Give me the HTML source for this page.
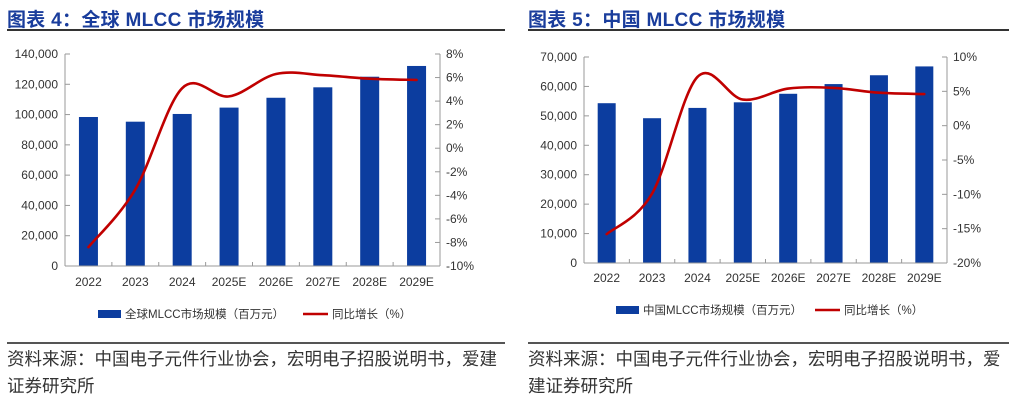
<!DOCTYPE html>
<html><head><meta charset="utf-8">
<style>
html,body{margin:0;padding:0;background:#fff;}
body{width:1016px;height:403px;position:relative;overflow:hidden;font-family:"Liberation Sans","Noto Sans CJK SC",sans-serif;}
.title{position:absolute;top:5px;font-size:19px;font-weight:bold;color:#1a3d9c;white-space:nowrap;letter-spacing:0.3px;}
.rule{position:absolute;height:2px;background:#333;}
.src{position:absolute;font-size:17.5px;color:#333;line-height:27px;}
svg{position:absolute;left:0;top:0;}
</style></head>
<body>
<div class="title" style="left:7px;">图表 4：全球 MLCC 市场规模</div>
<div class="rule" style="left:7px;top:29px;width:498px;"></div>
<div class="title" style="left:528px;">图表 5：中国 MLCC 市场规模</div>
<div class="rule" style="left:528px;top:29px;width:481px;"></div>
<div class="rule" style="left:7px;top:342px;width:498px;height:1.5px;background:#555;"></div>
<div class="rule" style="left:528px;top:342px;width:481px;height:1.5px;background:#555;"></div>
<div class="src" style="left:7px;top:346px;width:505px;">资料来源：中国电子元件行业协会，宏明电子招股说明书，爱建证券研究所</div>
<div class="src" style="left:528px;top:346px;width:485px;">资料来源：中国电子元件行业协会，宏明电子招股说明书，爱建证券研究所</div>
<svg id="svg" width="1016" height="403"></svg>
<script>
const categories = ["2022","2023","2024","2025E","2026E","2027E","2028E","2029E"];
const globalValues = [98400,95300,100400,104600,111100,118000,125000,132100];
const globalGrowth = [-8.4,-3.5,5.1,4.4,6.3,6.2,5.9,5.8];
const globalLeftTicks = [0,20000,40000,60000,80000,100000,120000,140000];
const globalRightTicks = [-10,-8,-6,-4,-2,0,2,4,6,8];
const chinaValues = [54300,49200,52700,54600,57500,60800,63800,66800];
const chinaGrowth = [-15.8,-9.9,7.1,3.8,5.4,5.5,4.8,4.6];
const chinaLeftTicks = [0,10000,20000,30000,40000,50000,60000,70000];
const chinaRightTicks = [-20,-15,-10,-5,0,5,10];
const barLegend4 = "全球MLCC市场规模（百万元）";
const barLegend5 = "中国MLCC市场规模（百万元）";
const lineLegend = "同比增长（%）";

const svg = document.getElementById('svg');
const NS = 'http://www.w3.org/2000/svg';
function mk(tag, attrs, text){
  const e = document.createElementNS(NS, tag);
  for (const k in attrs) e.setAttribute(k, attrs[k]);
  if (text !== undefined) e.textContent = text;
  svg.appendChild(e);
  return e;
}
function fmt(v){return v.toLocaleString('en-US');}

function drawChart(id, cfg){
  const {x0,x1,y0,y1,lmin,lmax,rmin,rmax,vals,growth,lt,rt,barW,labelY,legY,legBarX,legLineX,barLegend} = cfg;
  const yL = v => y0 - (v - lmin) / (lmax - lmin) * (y0 - y1);
  const yR = v => y0 - (v - rmin) / (rmax - rmin) * (y0 - y1);
  const band = (x1 - x0) / categories.length;
  const xC = i => x0 + band * (i + 0.5);
  // bars
  vals.forEach((v,i)=>{
    const b = mk('rect',{x:xC(i)-barW/2,y:yL(v),width:barW,height:y0-yL(v),fill:'#0c3d9f'});
    
    
  });
  // axes
  let a = mk('line',{x1:x0,y1:y1,x2:x0,y2:y0,stroke:'#999','stroke-width':1});
  
  
  a = mk('line',{x1:x1,y1:y1,x2:x1,y2:y0,stroke:'#999','stroke-width':1});
  
  
  a = mk('line',{x1:x0,y1:y0,x2:x1,y2:y0,stroke:'#999','stroke-width':1});
  
  
  lt.forEach(v=>{
    mk('line',{x1:x0,y1:yL(v),x2:x0+5,y2:yL(v),stroke:'#999'});
    const t = mk('text',{x:x0-7,y:yL(v)+4,'text-anchor':'end','font-size':12,fill:'#333'},fmt(v));
    
    
  });
  rt.forEach(v=>{
    mk('line',{x1:x1-5,y1:yR(v),x2:x1,y2:yR(v),stroke:'#999'});
    const t = mk('text',{x:x1+6,y:yR(v)+4,'font-size':12,fill:'#333'},v+'%');
    
    
  });
  for (let i=1;i<categories.length;i++){
    mk('line',{x1:x0+band*i,y1:y0,x2:x0+band*i,y2:y0-4,stroke:'#999'});
  }
  categories.forEach((c,i)=>{
    const t = mk('text',{x:xC(i),y:labelY,'text-anchor':'middle','font-size':12,fill:'#333'},c);
    
    
  });
  // smooth line (Catmull-Rom)
  const pts = growth.map((g,i)=>[xC(i), yR(g)]);
  let d = 'M'+pts[0][0]+','+pts[0][1];
  for (let i=0;i<pts.length-1;i++){
    const p0 = pts[i-1]||pts[i], p1=pts[i], p2=pts[i+1], p3=pts[i+2]||pts[i+1];
    const t=6;
    d += ' C'+(p1[0]+(p2[0]-p0[0])/t)+','+(p1[1]+(p2[1]-p0[1])/t)+' '+(p2[0]-(p3[0]-p1[0])/t)+','+(p2[1]-(p3[1]-p1[1])/t)+' '+p2[0]+','+p2[1];
  }
  const ln = mk('path',{d:d,fill:'none',stroke:'#c00000','stroke-width':2.6,'stroke-linecap':'round'});
  
  
  // legend
  const lb = mk('rect',{x:legBarX,y:legY-4,width:23,height:8,fill:'#0c3d9f'});
  
  
  const lbt = mk('text',{x:legBarX+27,y:legY+4,'font-size':11.5,fill:'#333'},barLegend);
  
  
  const ll = mk('line',{x1:legLineX,y1:legY,x2:legLineX+25,y2:legY,stroke:'#c00000','stroke-width':2.5});
  
  
  const llt = mk('text',{x:legLineX+29,y:legY+4,'font-size':11.5,fill:'#333'},lineLegend);
  
  
}

drawChart('chart4',{x0:65,x1:440,y0:266,y1:54,lmin:0,lmax:140000,rmin:-10,rmax:8,
  vals:globalValues,growth:globalGrowth,lt:globalLeftTicks,rt:globalRightTicks,barW:19,
  labelY:286,legY:314,legBarX:98,legLineX:303,barLegend:barLegend4});
drawChart('chart5',{x0:584,x1:947,y0:263,y1:57,lmin:0,lmax:70000,rmin:-20,rmax:10,
  vals:chinaValues,growth:chinaGrowth,lt:chinaLeftTicks,rt:chinaRightTicks,barW:18,
  labelY:282,legY:310,legBarX:616,legLineX:815,barLegend:barLegend5});
</script>
</body></html>
